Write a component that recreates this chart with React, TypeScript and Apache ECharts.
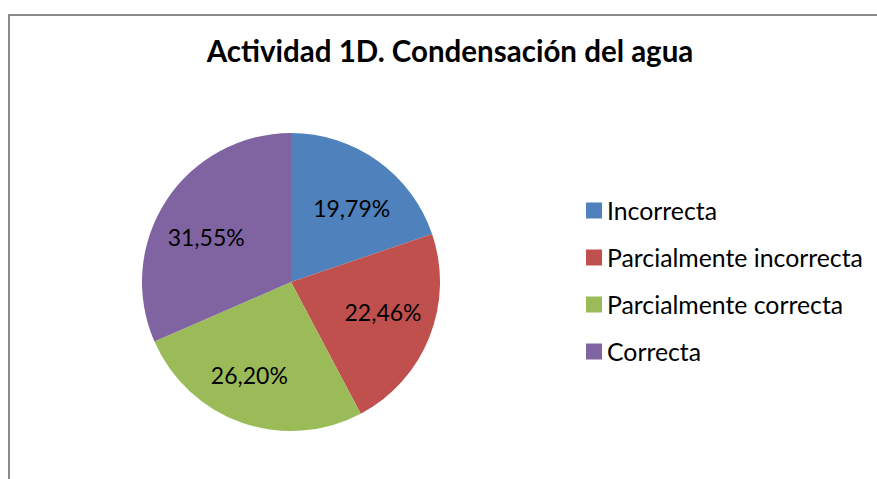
import React, { useEffect, useRef } from "react";
import * as echarts from "echarts";

const titleText = "Actividad 1D. Condensación del agua";
const categories = ["Incorrecta", "Parcialmente incorrecta", "Parcialmente correcta", "Correcta"];
const values = [19.79, 22.46, 26.2, 31.55];
const colors = ["#4F81BD", "#C0504D", "#9BBB59", "#8064A2"];
const labelOffsets = [
  [3, 6],
  [0, -7],
  [-9, 0],
  [-2, 9],
];

const FONT = "Lato, 'Noto Sans', sans-serif";

export default function App() {
  const ref = useRef<HTMLDivElement>(null);
  useEffect(() => {
    if (!ref.current) return;
    const chart = echarts.init(ref.current, null, { renderer: "svg" });
    const data = categories.map((name, i) => ({
      name,
      value: values[i],
      itemStyle: { color: colors[i] },
    }));
    chart.setOption({
      animation: false,
      backgroundColor: "#ffffff",
      textStyle: { fontFamily: FONT },
      graphic: [
        {
          type: "rect",
          shape: { x: 9, y: 15, width: 900, height: 500 },
          style: { fill: "none", stroke: "#8a8a8a", lineWidth: 2 },
          silent: true,
        },
        {
          type: "text",
          x: 450,
          y: 50,
          style: {
            text: titleText,
            font: `bold 29.5px ${FONT}`,
            fill: "#000000",
            textAlign: "center",
            textVerticalAlign: "middle",
          },
        },
      ],
      legend: {
        orient: "vertical",
        left: 581,
        top: 193,
        itemWidth: 16,
        itemHeight: 16,
        itemGap: 22,
        icon: "rect",
        textStyle: { fontSize: 24.8, color: "#000000", fontFamily: FONT },
        data: categories,
      },
      series: [
        {
          type: "pie",
          center: [291, 282],
          radius: [0, 149],
          startAngle: 90,
          clockwise: true,
          label: { show: false },
          labelLine: { show: false },
          itemStyle: { borderWidth: 0 },
          emphasis: { disabled: true },
          data,
        },
        {
          type: "pie",
          center: [291, 282],
          radius: [44, 148],
          startAngle: 90,
          clockwise: true,
          silent: true,
          itemStyle: { color: "rgba(0,0,0,0)", borderWidth: 0 },
          label: {
            show: true,
            position: "inside",
            fontSize: 23,
            color: "#000000",
            fontFamily: FONT,
            formatter: (p: any) => p.value.toFixed(2).replace(".", ",") + "%",
          },
          labelLine: { show: false },
          emphasis: { disabled: true },
          data: values.map((v, i) => ({
            name: categories[i] + "_lbl",
            value: v,
            label: { offset: labelOffsets[i] },
          })),
        },
      ],
    });
    return () => chart.dispose();
  }, []);
  return (
    <div
      ref={ref}
      style={{ position: "absolute", left: 0, top: 0, width: 877, height: 479 }}
    />
  );
}
